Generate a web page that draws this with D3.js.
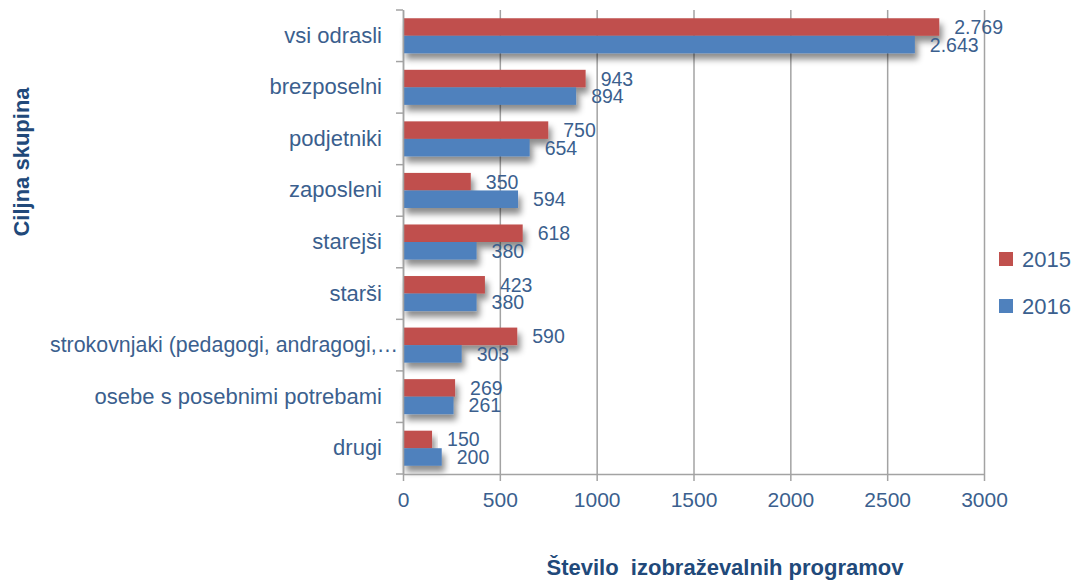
<!DOCTYPE html>
<html>
<head>
<meta charset="utf-8">
<script src="https://cdn.jsdelivr.net/npm/d3@7"></script>
<style>
  body { margin: 0; background: #fff; }
  svg { display: block; }
</style>
</head>
<body>
<svg id="chart" width="1078" height="585"></svg>
<script>
var categories = ["vsi odrasli", "brezposelni", "podjetniki", "zaposleni", "starejši ",
  "starši", "strokovnjaki (pedagogi, andragogi,…", "osebe s posebnimi potrebami", "drugi"];
var series = ["2015", "2016"];
var values2015 = [2769, 943, 750, 350, 618, 423, 590, 269, 150];
var values2016 = [2643, 894, 654, 594, 380, 380, 303, 261, 200];
var xTicks = [0, 500, 1000, 1500, 2000, 2500, 3000];

var svg = d3.select("#chart"),
    margin = {top: 10, right: 94, bottom: 111, left: 403},
    width = +svg.attr("width") - margin.left - margin.right,
    height = +svg.attr("height") - margin.top - margin.bottom,
    g = svg.append("g").attr("transform", "translate(" + margin.left + "," + margin.top + ")");

var textColor = "#3b5f8e", titleColor = "#21497a", gridColor = "#a3a3a3";
var font = "'Liberation Sans', Arial, sans-serif";

var fmt = d3.formatLocale({decimal: ",", thousands: ".", grouping: [3], currency: ["", ""]}).format(",d");

var data = categories.map(function(c, i) {
  return {cat: c, vals: [{key: "2015", value: values2015[i]}, {key: "2016", value: values2016[i]}]};
});

var x = d3.scaleLinear().domain([0, 3000]).range([0, width]);
var y0 = d3.scaleBand().domain(categories).range([0, height]).paddingInner(0.32).paddingOuter(0.16);
var y1 = d3.scaleBand().domain(series).range([0, y0.bandwidth()]);
var z = d3.scaleOrdinal().domain(series).range(["#c0504d", "#4f81bd"]);

/* schaduw */
var defs = svg.append("defs");
var f = defs.append("filter").attr("id", "shadow")
    .attr("x", "-10%").attr("y", "-50%").attr("width", "130%").attr("height", "250%");
f.append("feDropShadow").attr("dx", 3).attr("dy", 6).attr("stdDeviation", 3)
    .attr("flood-color", "#000").attr("flood-opacity", 0.45);

/* grid */
g.append("g")
    .call(d3.axisBottom(x).tickValues(xTicks).tickSize(height).tickFormat(""))
    .call(function(a) {
      a.select(".domain").remove();
      a.selectAll("line").attr("stroke", gridColor).attr("stroke-width", 1.5);
    });

/* bars */
var groups = g.append("g").selectAll("g")
    .data(data)
    .enter().append("g")
    .attr("transform", function(d) { return "translate(0," + y0(d.cat) + ")"; });

groups.selectAll("rect")
    .data(function(d) { return d.vals; })
    .enter().append("rect")
    .attr("x", x(0))
    .attr("y", function(d) { return y1(d.key); })
    .attr("width", function(d) { return x(d.value) - x(0); })
    .attr("height", y1.bandwidth())
    .attr("fill", function(d) { return z(d.key); })
    .attr("filter", "url(#shadow)");

groups.selectAll("text")
    .data(function(d) { return d.vals; })
    .enter().append("text")
    .attr("x", function(d) { return x(d.value) + 15; })
    .attr("y", function(d) { return y1(d.key) + y1.bandwidth() / 2; })
    .attr("dy", "0.36em")
    .attr("font-family", font)
    .attr("font-size", 19.5)
    .attr("fill", textColor)
    .text(function(d) { return fmt(d.value); });

/* X as */
g.append("g")
    .attr("transform", "translate(0," + height + ")")
    .call(d3.axisBottom(x).tickValues(xTicks).tickSize(7).tickSizeOuter(0).tickPadding(11).tickFormat(d3.format("d")))
    .call(function(a) {
      a.select(".domain").attr("stroke", gridColor).attr("stroke-width", 1.5);
      a.selectAll("line").attr("stroke", gridColor).attr("stroke-width", 1.5);
      a.selectAll("text").attr("fill", textColor).attr("font-size", 21).attr("font-family", font);
    });

/* Y as */
g.append("g")
    .call(d3.axisLeft(y0).tickSize(0).tickPadding(21))
    .call(function(a) {
      a.select(".domain").attr("stroke", gridColor).attr("stroke-width", 1.5);
      a.selectAll("text").attr("fill", textColor).attr("font-size", 22).attr("font-family", font);
      // lange label loopt door tot aan de as, zoals in het origineel
      a.selectAll("text").filter(function(d) { return d === categories[6]; })
        .attr("x", -5)
        .attr("textLength", 348)
        .attr("lengthAdjust", "spacingAndGlyphs");
    });

var step = y0.step();
g.append("g").selectAll("line")
    .data(d3.range(categories.length + 1))
    .enter().append("line")
    .attr("x1", -7).attr("x2", 0)
    .attr("y1", function(i) { return i * step; })
    .attr("y2", function(i) { return i * step; })
    .attr("stroke", gridColor).attr("stroke-width", 1.5);

/* titels */
svg.append("text")
    .attr("transform", "translate(29," + (margin.top + 152) + ") rotate(-90)")
    .attr("text-anchor", "middle")
    .attr("font-family", font)
    .attr("font-weight", "bold")
    .attr("font-size", 22)
    .attr("fill", titleColor)
    .text("Ciljna skupina");

svg.append("text")
    .attr("x", 725).attr("y", 575)
    .attr("text-anchor", "middle")
    .attr("font-family", font)
    .attr("font-weight", "bold")
    .attr("font-size", 22)
    .attr("fill", titleColor)
    .attr("xml:space", "preserve")
    .text("Število  izobraževalnih programov");

/* Legenda */
var legend = svg.append("g")
    .selectAll("g")
    .data(series)
    .enter().append("g")
    .attr("transform", function(d, i) { return "translate(999," + (252 + i * 47) + ")"; });

legend.append("rect")
    .attr("width", 14).attr("height", 14)
    .attr("fill", z);

legend.append("text")
    .attr("x", 23).attr("y", 7)
    .attr("dy", "0.36em")
    .attr("font-family", font)
    .attr("font-size", 22)
    .attr("fill", textColor)
    .text(function(d) { return d; });
</script>
</body>
</html>
